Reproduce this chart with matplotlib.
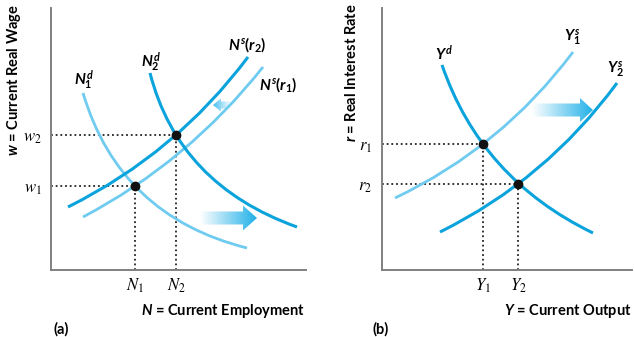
import numpy as np
import matplotlib
matplotlib.use("Agg")
import matplotlib.pyplot as plt
from matplotlib.path import Path
from matplotlib.patches import PathPatch, Polygon
from matplotlib.colors import LinearSegmentedColormap

plt.rcParams['mathtext.fontset'] = 'custom'
plt.rcParams['mathtext.it'] = 'Lato:italic:bold'
plt.rcParams['mathtext.rm'] = 'Lato:bold'
plt.rcParams['mathtext.bf'] = 'Lato:bold'

DARK = "#0aa3dc"
LIGHT = "#6fcbef"

# ---------------- data: panel (a) labour market ----------------
# each curve: start point, a point on the curve, end point (x, y)
n1d_pts = [(32, 177), (84, 84), (196, 22)]
n2d_pts = [(99, 197), (125, 135), (246, 43)]
nsr2_pts = [(17, 63), (125, 135), (197, 213)]
nsr1_pts = [(32, 53), (84, 84), (212, 203)]
eq_a_x = [84, 125]      # N1, N2
eq_a_y = [84, 135]      # w1, w2
a_xticklabels = [r"$N_1$", r"$N_2$"]
a_yticklabels = [r"$w_1$", r"$w_2$"]

# ---------------- data: panel (b) goods market ----------------
yd_pts = [(60, 205), (101, 126), (211, 37)]
y1s_pts = [(13, 72), (101, 126), (191, 218)]
y2s_pts = [(58, 38), (136, 86), (235, 187)]
eq_b_x = [101, 136]     # Y1, Y2
eq_b_y = [126, 86]      # r1, r2
b_xticklabels = [r"$Y_1$", r"$Y_2$"]
b_yticklabels = [r"$r_1$", r"$r_2$"]


def curve(ax, pts, color, lw):
    p0, m, p2 = (np.array(p, float) for p in pts)
    d1 = np.hypot(*(m - p0))
    d2 = np.hypot(*(p2 - m))
    t = d1 / (d1 + d2)
    c = (m - (1 - t) ** 2 * p0 - t ** 2 * p2) / (2 * t * (1 - t))
    path = Path([p0, c, p2], [Path.MOVETO, Path.CURVE3, Path.CURVE3])
    ax.add_patch(PathPatch(path, facecolor="none", edgecolor=color, lw=lw,
                           capstyle="butt", zorder=3))


def grad_arrow(ax, x0, x1, y, shaft, head, hlen, color):
    # arrow from x0 (faded tail) to x1 (tip)
    s = np.sign(x1 - x0)
    xb = x1 - s * hlen
    verts = [(x0, y - shaft), (xb, y - shaft), (xb, y - head), (x1, y),
             (xb, y + head), (xb, y + shaft), (x0, y + shaft)]
    poly = Polygon(verts, closed=True, facecolor="none", edgecolor="none")
    ax.add_patch(poly)
    cmap = LinearSegmentedColormap.from_list("g", ["#ffffff", color])
    grad = np.linspace(0, 1, 256).reshape(1, -1)
    if s < 0:
        grad = grad[:, ::-1]
    im = ax.imshow(grad, cmap=cmap, extent=[min(x0, x1), max(x0, x1), y - head, y + head],
                   aspect="auto", zorder=2, interpolation="bilinear")
    im.set_clip_path(poly)


def dotted(ax, xs, ys):
    for x, y in zip(xs, ys):
        ax.plot([0, x], [y, y], color="#222222", lw=1.3, ls=(0, (1, 1.6)), zorder=2)
        ax.plot([x, x], [0, y], color="#222222", lw=1.3, ls=(0, (1, 1.6)), zorder=2)
        ax.plot([x], [y], "o", color="#111111", ms=6, zorder=5)


def setup(ax, xmax, ymax):
    ax.set_xlim(0, xmax)
    ax.set_ylim(0, ymax)
    for sp in ["top", "right"]:
        ax.spines[sp].set_visible(False)
    for sp in ["left", "bottom"]:
        ax.spines[sp].set_color("#808080")
        ax.spines[sp].set_linewidth(1.4)
    ax.tick_params(length=0, pad=5)


fig = plt.figure(figsize=(6.35, 3.37), dpi=100)
W, H = 635, 337
axa = fig.add_axes([51 / W, (H - 270) / H, 255 / W, 262 / H])
axb = fig.add_axes([382 / W, (H - 270) / H, 250 / W, 262 / H])
setup(axa, 255, 262)
setup(axb, 250, 262)

# panel (a)
curve(axa, n1d_pts, LIGHT, 2.0)
curve(axa, nsr1_pts, LIGHT, 2.0)
curve(axa, n2d_pts, DARK, 2.2)
curve(axa, nsr2_pts, DARK, 2.2)
dotted(axa, eq_a_x, eq_a_y)
grad_arrow(axa, 149, 206, 52, 6.5, 12.5, 14, "#1fb0e8")
grad_arrow(axa, 180, 162, 165, 3.5, 6.5, 8, "#44bff0")
axa.set_xticks(eq_a_x, a_xticklabels, fontsize=12, math_fontfamily="stix")
axa.set_yticks(eq_a_y, a_yticklabels, fontsize=12, math_fontfamily="stix")
axa.tick_params(axis="y", pad=7)

axa.text(33, 190, r"$N_1^d$", fontsize=11, ha="center", va="center")
axa.text(100, 208, r"$N_2^d$", fontsize=11, ha="center", va="center")
axa.text(196, 225, r"$N^s(r_2)$", fontsize=11, ha="center", va="center")
axa.text(227, 185, r"$N^s(r_1)$", fontsize=11, ha="center", va="center")

# panel (b)
curve(axb, y1s_pts, LIGHT, 2.0)
curve(axb, yd_pts, DARK, 2.2)
curve(axb, y2s_pts, DARK, 2.2)
dotted(axb, eq_b_x, eq_b_y)
grad_arrow(axb, 150, 211, 160, 6.5, 12, 13, "#1fb0e8")
axb.set_xticks(eq_b_x, b_xticklabels, fontsize=12, math_fontfamily="stix")
axb.set_yticks(eq_b_y, b_yticklabels, fontsize=12, math_fontfamily="stix")
axb.tick_params(axis="y", pad=7)

axb.text(62, 217, r"$Y^d$", fontsize=11, ha="center", va="center")
axb.text(190, 232, r"$Y_1^s$", fontsize=11, ha="center", va="center")
axb.text(234, 200, r"$Y_2^s$", fontsize=11, ha="center", va="center")

# axis titles
fig.text(305 / W, 1 - 311 / H, r"$N$ = Current Employment", fontsize=10.5,
         family="Lato", weight="bold", ha="right", va="center")
fig.text(632 / W, 1 - 311 / H, r"$Y$ = Current Output", fontsize=10.5,
         family="Lato", weight="bold", ha="right", va="center")
fig.text(14 / W, 1 - 80 / H, r"$w$ = Current Real Wage", fontsize=10.5,
         family="Lato", weight="bold", rotation=90, ha="center", va="center")
fig.text(352 / W, 1 - 73 / H, r"$r$ = Real Interest Rate", fontsize=10.5,
         family="Lato", weight="bold", rotation=90, ha="center", va="center")
fig.text(61 / W, 1 - 329 / H, "(a)", fontsize=10.5, family="Lato", weight="bold",
         ha="center", va="center")
fig.text(381 / W, 1 - 329 / H, "(b)", fontsize=10.5, family="Lato", weight="bold",
         ha="center", va="center")

fig.savefig("out.png", dpi=100)
